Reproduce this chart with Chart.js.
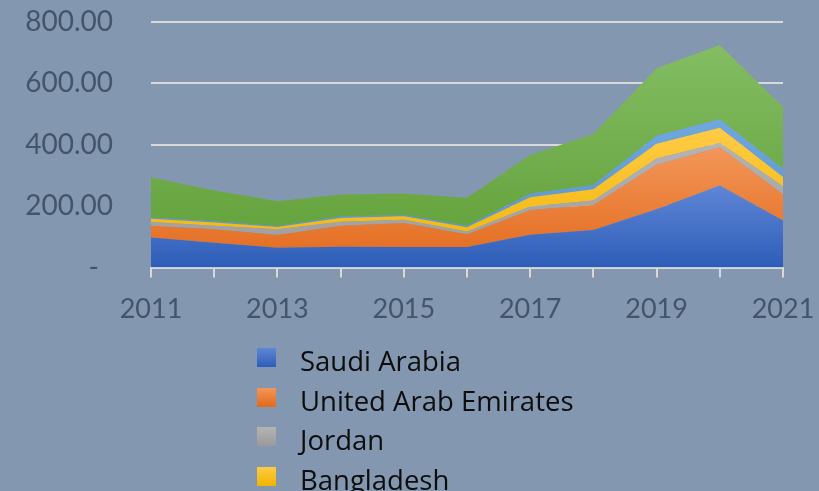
<!DOCTYPE html>
<html lang="en">
<head>
  <meta charset="UTF-8">
  <title>Stacked area chart 2011-2021</title>
  <script src="https://cdn.jsdelivr.net/npm/chart.js"></script>
  <style>
    html, body {
      margin: 0;
      padding: 0;
      width: 819px;
      height: 491px;
      overflow: hidden;
      background: #8497b0;
      font-family: Lato, "Open Sans", sans-serif;
    }
    .chart-container {
      position: relative;
      width: 819px;
      height: 491px;
    }
    #legend {
      position: absolute;
      left: 257px;
      top: 348px;
      margin: 0;
      padding: 0;
      list-style: none;
    }
    #legend li {
      position: relative;
      height: 39.5px;
      padding-left: 43px;
      font-family: "Open Sans", sans-serif;
      font-size: 27.5px;
      line-height: 25px;
      color: #0d0d0d;
      white-space: nowrap;
    }
    #legend li span {
      position: absolute;
      left: 0;
      top: 0;
      width: 19px;
      height: 19px;
    }
  </style>
</head>
<body>
  <div class="chart-container">
    <canvas id="areaChart" width="819" height="491"></canvas>
    <ul id="legend"></ul>
  </div>
  <script>
    // values
    const years = ['2011', '2012', '2013', '2014', '2015', '2016', '2017', '2018', '2019', '2020', '2021'];
    const saudiArabia = [98, 81, 64, 68, 67, 67, 107, 122, 190, 267, 153];
    const uae = [38, 44, 42, 68, 78, 41, 80, 82, 145, 125, 86];
    const jordan = [12, 11, 19, 13, 11, 9, 12, 14, 20, 14, 26];
    const bangladesh = [11, 11, 7, 12, 11, 14, 30, 37, 48, 49, 30];
    const kuwait = [4, 4, 3, 5, 4, 5, 11, 14, 26, 28, 27];
    const others = [131, 100, 81, 72, 70, 91, 127, 166, 220, 242, 201];
    const yTicks = [0, 200, 400, 600, 800];

    const series = [
      { label: 'Saudi Arabia', data: saudiArabia, top: '#5f86d6', bottom: '#2d5db8' },
      { label: 'United Arab Emirates', data: uae, top: '#f39659', bottom: '#e2691b' },
      { label: 'Jordan', data: jordan, top: '#b4b4b4', bottom: '#9a9a9a' },
      { label: 'Bangladesh', data: bangladesh, top: '#ffcb45', bottom: '#f0b400' },
      { label: 'Kuwait', data: kuwait, top: '#6fa8dd', bottom: '#5090cc' },
      { label: 'Others', data: others, top: '#84bd63', bottom: '#5f9e36' }
    ];

    // running totals, used to size each area's gradient
    const stackTops = series.map((s, i) =>
      Math.max(...years.map((_, j) => series.slice(0, i + 1).reduce((a, b) => a + b.data[j], 0)))
    );

    function gradientFor(i) {
      return function (ctx) {
        const chart = ctx.chart;
        const area = chart.chartArea;
        if (!area || !chart.scales.y) return series[i].bottom;
        const yTop = chart.scales.y.getPixelForValue(stackTops[i]);
        const g = chart.ctx.createLinearGradient(0, yTop, 0, area.bottom);
        g.addColorStop(0, series[i].top);
        g.addColorStop(1, series[i].bottom);
        return g;
      };
    }

    const tickFont = { family: 'Lato, "Open Sans", sans-serif', size: 27 };

    const chart = new Chart(document.getElementById('areaChart'), {
      type: 'line',
      data: {
        labels: years,
        datasets: series.map((s, i) => ({
          label: s.label,
          data: s.data,
          fill: i === 0 ? 'origin' : '-1',
          backgroundColor: gradientFor(i),
          borderWidth: 0,
          pointRadius: 0,
          tension: 0
        }))
      },
      options: {
        responsive: false,
        animation: false,
        layout: { padding: { top: 22, right: 36, left: 0, bottom: 0 } },
        plugins: {
          legend: { display: false },
          tooltip: { enabled: false }
        },
        scales: {
          x: {
            offset: false,
            afterFit: scale => {
              scale.height = 223.5;
              scale.paddingLeft = 0;
              scale.paddingRight = 0;
            },
            grid: {
              drawOnChartArea: false,
              drawTicks: true,
              tickLength: 10,
              color: '#d9d9d9',
              lineWidth: 2
            },
            border: { display: true, color: '#d9d9d9', width: 2 },
            ticks: {
              autoSkip: false,
              maxRotation: 0,
              padding: 16,
              color: '#44546a',
              font: tickFont,
              callback: function (v, i) { return i % 2 === 0 ? years[i] : ''; }
            }
          },
          y: {
            stacked: true,
            min: 0,
            max: 800,
            afterFit: scale => {
              scale.width = 151;
              scale.paddingTop = 0;
              scale.paddingBottom = 0;
            },
            afterBuildTicks: scale => { scale.ticks = yTicks.map(v => ({ value: v })); },
            grid: {
              drawTicks: false,
              color: '#d9d9d9',
              lineWidth: 2
            },
            border: { display: false },
            ticks: {
              padding: 38,
              color: '#44546a',
              font: { family: tickFont.family, size: 28 },
              // accounting style: zero shows as a dash, set in a little
              callback: v => v === 0 ? '-\u2002' : v.toFixed(2)
            }
          }
        }
      }
    });

    // vertical legend under the plot, like the original
    const legend = document.getElementById('legend');
    series.forEach(s => {
      const li = document.createElement('li');
      const box = document.createElement('span');
      box.style.background = 'linear-gradient(' + s.top + ', ' + s.bottom + ')';
      li.appendChild(box);
      li.appendChild(document.createTextNode(s.label));
      legend.appendChild(li);
    });
  </script>
</body>
</html>
